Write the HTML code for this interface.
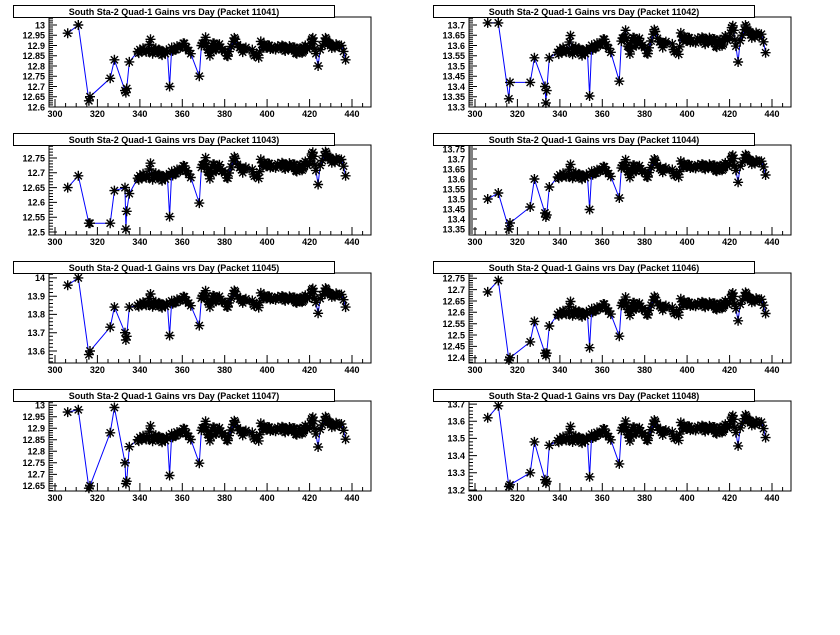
<!DOCTYPE html>
<html><head><meta charset="utf-8"><style>
html,body{margin:0;padding:0;background:#fff;width:840px;height:635px;overflow:hidden}
svg text{font-family:"Liberation Sans",Arial,sans-serif;font-weight:bold}
</style></head><body>
<svg id="s" width="840" height="635" xmlns="http://www.w3.org/2000/svg"></svg>
<script>
var S=document.getElementById('s'),out='';
var tpl=[[339,12.87],[340,12.88],[341,12.87],[342,12.88],[344,12.87],[345,12.93],[346,12.86],[347,12.88],[348,12.87],[349,12.88],[350,12.86],[351,12.87],[352,12.86],[353,12.87],[354,12.70],[355,12.89],[356,12.88],[357,12.88],[358,12.89],[360,12.90],[361,12.91],[362,12.89],[364,12.86],[368,12.75],[369,12.90],[370,12.91],[371,12.94],[372,12.88],[373,12.85],[374,12.90],[375,12.91],[376,12.88],[377,12.90],[378,12.89],[379,12.88],[381,12.85],[382,12.87],[384,12.92],[385,12.93],[387,12.89],[388,12.88],[389,12.88],[390,12.89],[393,12.88],[394,12.85],[396,12.84],[397,12.92],[398,12.89],[399,12.90],[400,12.89],[401,12.90],[402,12.89],[404,12.88],[406,12.89],[407,12.90],[408,12.88],[409,12.89],[410,12.88],[411,12.89],[412,12.88],[413,12.89],[414,12.86],[415,12.88],[416,12.87],[417,12.87],[418,12.90],[420,12.89],[421,12.93],[422,12.92],[423,12.86],[424,12.80],[425,12.88],[427,12.92],[428,12.93],[429,12.91],[430,12.90],[431,12.90],[432,12.89],[433,12.90],[435,12.90],[437,12.83]];
// densify plateau
var dense=[];for(var k=0;k<tpl.length;k++){dense.push(tpl[k]);if(k<tpl.length-1&&tpl[k+1][0]-tpl[k][0]<=2&&tpl[k][1]>12.8&&tpl[k+1][1]>12.8){dense.push([(tpl[k][0]+tpl[k+1][0])/2,(tpl[k][1]+tpl[k+1][1])/2+((k*7)%5-2)*0.006]);}}
var ed=[306,311,316,316.5,326,328,333,333.4,333.8,335];
var P=[
{n:11041,top:13.039,bot:12.6,st:0.05,dec:2,base:12.88,sc:1,e:[12.96,13.0,12.63,12.65,12.74,12.83,12.68,12.67,12.69,12.82]},
{n:11042,top:13.739,bot:13.3,st:0.05,dec:2,base:13.58,sc:1.3,e:[13.71,13.71,13.34,13.42,13.42,13.54,13.40,13.32,13.38,13.54],tr:0.05},
{n:11043,top:12.794,bot:12.49,st:0.05,dec:2,base:12.69,sc:0.8,e:[12.65,12.69,12.53,12.53,12.53,12.64,12.65,12.51,12.57,12.63],tr:0.04},
{n:11044,top:13.77,bot:13.32,st:0.05,dec:2,base:13.62,sc:1,e:[13.50,13.53,13.35,13.38,13.46,13.60,13.43,13.41,13.42,13.56],tr:0.05},
{n:11045,top:14.027,bot:13.534,st:0.1,dec:1,base:13.86,sc:1,e:[13.96,14.0,13.58,13.60,13.73,13.84,13.70,13.66,13.68,13.84],tr:0.03},
{n:11046,top:12.773,bot:12.377,st:0.05,dec:2,base:12.60,sc:0.9,e:[12.69,12.74,12.39,12.40,12.47,12.56,12.42,12.41,12.42,12.54],tr:0.04},
{n:11047,top:13.018,bot:12.628,st:0.05,dec:2,base:12.86,sc:0.95,e:[12.97,12.98,12.64,12.65,12.88,12.99,12.75,12.66,12.67,12.82],tr:0.04},
{n:11048,top:13.718,bot:13.194,st:0.1,dec:1,base:13.50,sc:1.3,e:[13.62,13.69,13.22,13.23,13.30,13.48,13.26,13.24,13.25,13.46],tr:0.07}];
function star(x,y){var r=5,d=3.6;return 'M'+(x-r)+' '+y+'h'+2*r+'M'+x+' '+(y-r)+'v'+2*r+'M'+(x-d)+' '+(y-d)+'l'+2*d+' '+2*d+'M'+(x-d)+' '+(y+d)+'l'+2*d+' '+(-2*d);}
P.forEach(function(p,i){
 var ox=(i%2)*420, oy=Math.floor(i/2)*128;
 var L=ox+49,R=ox+371,T=oy+17,B=oy+107;
 var X=function(d){return ox+55+(d-300)*297/140;};
 var Y=function(v){return T+(p.top-v)/(p.top-p.bot)*(B-T);};
 var pts=[];ed.forEach(function(d,k){pts.push([d,p.e[k]]);});
 dense.forEach(function(t){var f=(t[0]-339)/98;pts.push([t[0],p.base+(t[1]-12.88)*p.sc+(p.tr||0)*f]);});
 out+='<rect x="'+L+'" y="'+T+'" width="'+(R-L)+'" height="'+(B-T)+'" fill="#fff" stroke="#000" stroke-width="1"/>';
 var g='';
 var mi=p.st/5, v0=Math.ceil(p.bot/mi-1e-6)*mi;
 for(var v=v0;v<=p.top+1e-9;v+=mi){var y=Y(v);var maj=Math.abs(Math.round(v/p.st)*p.st-v)<1e-6;
  g+='M'+L+' '+y.toFixed(1)+'h'+(maj?8:4);
  if(maj&&y>T+3) out+='<text x="'+(L-4)+'" y="'+(y+3.3).toFixed(1)+'" font-size="9" text-anchor="end">'+(+(Math.round(v/p.st)*p.st).toFixed(p.dec)).toString()+'</text>';}
 for(var d=295;d<=449;d+=5){var x=X(d);if(x<L||x>R)continue;var maj=d%20==0;
  g+='M'+x.toFixed(1)+' '+B+'v'+(maj?-8:-4);
  if(maj&&d>=300&&d<=440) out+='<text x="'+x.toFixed(1)+'" y="'+(oy+117)+'" font-size="9" text-anchor="middle">'+d+'</text>';}
 out+='<path d="'+g+'" stroke="#000" stroke-width="1" fill="none"/>';
 out+='<polyline points="'+pts.map(function(q){return X(q[0]).toFixed(1)+','+Y(q[1]).toFixed(1);}).join(' ')+'" fill="none" stroke="#0000ff" stroke-width="1"/>';
 out+='<path d="'+pts.map(function(q){return star(+X(q[0]).toFixed(1),+Y(q[1]).toFixed(1));}).join('')+'" stroke="#000" stroke-width="1.4" fill="none"/>';
 out+='<rect x="'+(ox+13.5)+'" y="'+(oy+5.5)+'" width="321" height="12" fill="#fff" stroke="#000" stroke-width="1"/>';
 out+='<text x="'+(ox+174)+'" y="'+(oy+15)+'" font-size="9" text-anchor="middle">South Sta-2 Quad-1 Gains vrs Day (Packet '+p.n+')</text>';
});
S.innerHTML=out;
</script>
</body></html>
